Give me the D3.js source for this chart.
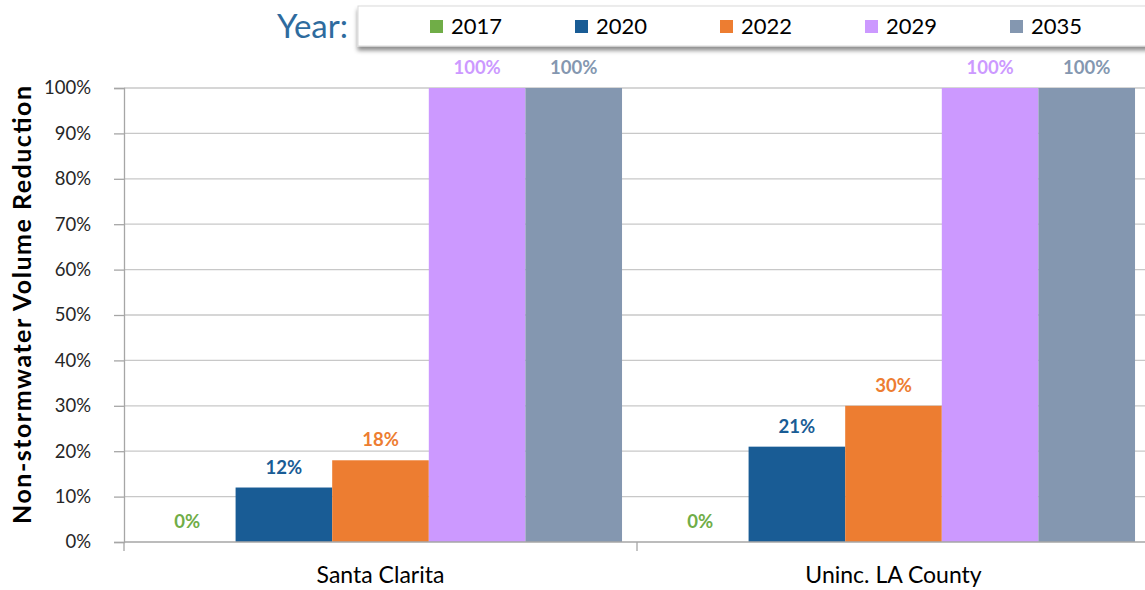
<!DOCTYPE html>
<html>
<head>
<meta charset="utf-8">
<script src="https://cdn.jsdelivr.net/npm/d3@7/dist/d3.min.js"></script>
<style>
  html, body { margin: 0; padding: 0; background: #fff; }
  svg { display: block; font-family: "Lato", "Open Sans", sans-serif; }
</style>
</head>
<body>
<svg id="chart" width="1145" height="590"></svg>
<script>
// Non-stormwater volume reduction by jurisdiction and target year
const categories = ["Santa Clarita", "Uninc. LA County"];
const years = ["2017", "2020", "2022", "2029", "2035"];
const values2017 = [0.00, 0.00];
const values2020 = [0.12, 0.21];
const values2022 = [0.18, 0.30];
const values2029 = [1.00, 1.00];
const values2035 = [1.00, 1.00];
const yTicks = [0, 0.1, 0.2, 0.3, 0.4, 0.5, 0.6, 0.7, 0.8, 0.9, 1.0];

const seriesValues = [values2017, values2020, values2022, values2029, values2035];
const colors = ["#70AD47", "#195C95", "#ED7D31", "#CC99FF", "#8497B0"];

const svg = d3.select("#chart");
const plot = { left: 124, right: 1150, top: 88, bottom: 542 };

const x0 = d3.scaleBand().domain(categories).range([plot.left, plot.right]).paddingInner(0).paddingOuter(0);
const x1 = d3.scaleBand().domain(years).range([0, x0.bandwidth()]).paddingInner(0).paddingOuter(0.155);
const y = d3.scaleLinear().domain([0, 1]).range([plot.bottom, plot.top]);
const color = d3.scaleOrdinal().domain(years).range(colors);

// Gridlines
svg.append("g")
  .selectAll("line")
  .data(yTicks.slice(1))
  .join("line")
  .attr("x1", plot.left).attr("x2", plot.right)
  .attr("y1", d => y(d)).attr("y2", d => y(d))
  .attr("stroke", "#c8c8c8").attr("stroke-width", 1.3);

// Y axis
const yAxis = svg.append("g")
  .attr("transform", `translate(${plot.left},0)`)
  .call(d3.axisLeft(y).tickValues(yTicks).tickFormat(d3.format(".0%")).tickSize(10).tickPadding(23));
yAxis.select(".domain").attr("stroke", "#a6a6a6").attr("stroke-width", 1.3);
yAxis.selectAll(".tick line").attr("stroke", "#a6a6a6").attr("stroke-width", 1.3);
yAxis.selectAll(".tick text").attr("font-size", 18.5).attr("fill", "#262626")
  .attr("font-family", "Lato, sans-serif");

// Bars
const rows = categories.map((c, i) => ({ category: c, vals: years.map((yr, j) => ({ year: yr, value: seriesValues[j][i] })) }));

const groups = svg.append("g").selectAll("g")
  .data(rows)
  .join("g")
  .attr("transform", d => `translate(${x0(d.category)},0)`);

groups.selectAll("rect")
  .data(d => d.vals)
  .join("rect")
  .attr("x", d => x1(d.year))
  .attr("width", x1.bandwidth())
  .attr("y", d => y(d.value))
  .attr("height", d => y(0) - y(d.value))
  .attr("fill", d => color(d.year));

groups.selectAll("text")
  .data(d => d.vals)
  .join("text")
  .attr("x", d => x1(d.year) + x1.bandwidth() / 2)
  .attr("y", d => y(d.value) - 14)
  .attr("text-anchor", "middle")
  .attr("font-size", 18.5)
  .attr("font-weight", "bold")
  .attr("fill", d => color(d.year))
  .text(d => d3.format(".0%")(d.value));

// X axis baseline and category dividers
svg.append("line")
  .attr("x1", plot.left).attr("x2", plot.right)
  .attr("y1", plot.bottom).attr("y2", plot.bottom)
  .attr("stroke", "#a6a6a6").attr("stroke-width", 1.3);
svg.append("g").selectAll("line")
  .data(categories)
  .join("line")
  .attr("x1", d => x0(d)).attr("x2", d => x0(d))
  .attr("y1", plot.bottom).attr("y2", plot.bottom + 9)
  .attr("stroke", "#a6a6a6").attr("stroke-width", 1.3);
svg.append("g").selectAll("text")
  .data(categories)
  .join("text")
  .attr("x", d => x0(d) + x0.bandwidth() / 2)
  .attr("y", 583)
  .attr("text-anchor", "middle")
  .attr("font-size", 23)
  .attr("fill", "#000")
  .text(d => d);

// Y axis title
svg.append("text")
  .attr("transform", `translate(31,${305}) rotate(-90)`)
  .attr("text-anchor", "middle")
  .attr("font-size", 25)
  .attr("font-weight", "bold")
  .attr("fill", "#000")
  .attr("textLength", 438)
  .attr("lengthAdjust", "spacing")
  .text("Non-stormwater Volume Reduction");

// Legend
const defs = svg.append("defs");
const f = defs.append("filter").attr("id", "shadow").attr("x", "-5%").attr("y", "-30%").attr("width", "110%").attr("height", "180%");
f.append("feDropShadow").attr("dx", 0).attr("dy", 4).attr("stdDeviation", 2.2).attr("flood-color", "#000").attr("flood-opacity", 0.45);

svg.append("text")
  .attr("x", 348).attr("y", 38)
  .attr("text-anchor", "end")
  .attr("font-size", 33)
  .attr("fill", "#2E6B9E")
  .text("Year:");

svg.append("rect")
  .attr("x", 358).attr("y", 6)
  .attr("width", 800).attr("height", 40)
  .attr("fill", "#fff")
  .attr("stroke", "#d9d9d9")
  .attr("filter", "url(#shadow)");

const legendX = d3.scalePoint().domain(years).range([430, 1010]);
const legendItems = svg.append("g").selectAll("g")
  .data(years)
  .join("g")
  .attr("transform", d => `translate(${legendX(d)},0)`);
legendItems.append("rect")
  .attr("x", 0).attr("y", 20).attr("width", 13).attr("height", 13)
  .attr("fill", d => color(d));
legendItems.append("text")
  .attr("x", 21).attr("y", 34)
  .attr("font-size", 22)
  .attr("fill", "#000")
  .text(d => d);
</script>
</body>
</html>
